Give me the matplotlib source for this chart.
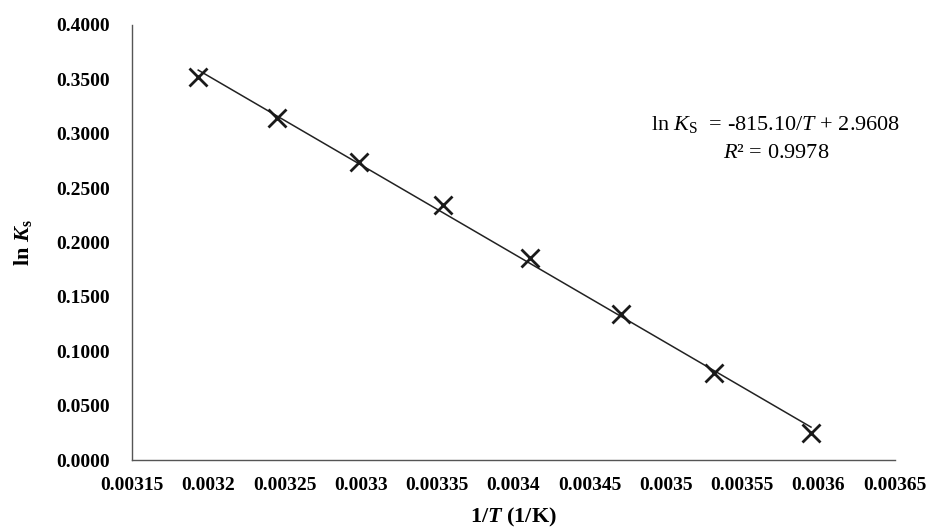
import matplotlib.pyplot as plt
import numpy as np

plt.rcParams['font.family'] = ['Liberation Serif', 'DejaVu Serif']
plt.rcParams['mathtext.fontset'] = 'custom'
plt.rcParams['mathtext.rm'] = 'Liberation Serif'
plt.rcParams['mathtext.it'] = 'Liberation Serif:italic'
plt.rcParams['mathtext.bf'] = 'Liberation Serif:bold'
plt.rcParams['mathtext.bfit'] = 'Liberation Serif:italic:bold'

# Data (1/T in 1/K, ln Ks)
inv_T = [0.0031934, 0.0032452, 0.0032987, 0.0033540,
         0.0034112, 0.0034704, 0.0035317, 0.0035951]
ln_Ks = [0.3520, 0.3143, 0.2739, 0.2344, 0.1857, 0.1342, 0.0800, 0.0248]

x_ticks = [0.00315, 0.0032, 0.00325, 0.0033, 0.00335, 0.0034,
           0.00345, 0.0035, 0.00355, 0.0036, 0.00365]
x_tick_labels = ['0.00315', '0.0032', '0.00325', '0.0033', '0.00335', '0.0034',
                 '0.00345', '0.0035', '0.00355', '0.0036', '0.00365']
y_ticks = [0.0, 0.05, 0.10, 0.15, 0.20, 0.25, 0.30, 0.35, 0.40]

eq_text = r'ln $K_{\mathrm{S}}$  = -815.10/$T$ + 2.9608'
r2_text = r'$R$² = 0.9978'

fig = plt.figure(figsize=(9.33, 5.30), dpi=100)
ax = fig.add_axes([0.1415, 0.132, 0.8175, 0.821])

x = np.array(inv_T)
y = np.array(ln_Ks)

# linear trendline through the points
coef = np.polyfit(x, y, 1)
xl = np.array([x.min(), x.max()])
ax.plot(xl, np.polyval(coef, xl), color='#222222', linewidth=1.1, zorder=2)

ax.plot(x, y, linestyle='none', marker='x', markersize=13,
        markeredgewidth=2.0, color='#1a1a1a', zorder=3)

ax.set_xlim(0.00315, 0.00365)
ax.set_ylim(0.0, 0.4)
ax.set_xticks(x_ticks)
ax.set_xticklabels(x_tick_labels)
ax.set_yticks(y_ticks)
ax.set_yticklabels([f'{v:.4f}' for v in y_ticks])
ax.tick_params(axis='y', length=0, labelsize=14, pad=16)
ax.tick_params(axis='x', length=0, labelsize=14, pad=12)
for lab in ax.get_xticklabels() + ax.get_yticklabels():
    lab.set_fontweight('bold')

for side in ['top', 'right']:
    ax.spines[side].set_visible(False)
for side in ['left', 'bottom']:
    ax.spines[side].set_color('#555555')
    ax.spines[side].set_linewidth(1.0)

ax.set_xlabel(r'1/$\mathbfit{T}$ (1/K)', fontsize=16, fontweight='bold', labelpad=9)
ax.set_ylabel(r'ln $\mathbfit{K}_\mathbf{s}$', fontsize=16, fontweight='bold', labelpad=16)

ax.text(0.003572, 0.308, eq_text, fontsize=16, ha='center', va='center')
ax.text(0.003572, 0.2814, r2_text, fontsize=16, ha='center', va='center')

plt.savefig('out.png', dpi=100)
plt.close()
